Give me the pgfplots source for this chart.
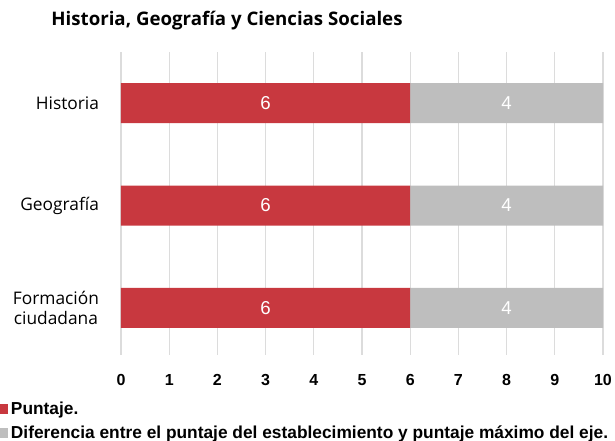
\documentclass[border=0pt]{standalone}
\usepackage{pgfplots}
\pgfplotsset{compat=1.18}
\usepackage{fontspec}
\setmainfont{Open Sans}
\newfontfamily\arialf{Liberation Sans}
\definecolor{barred}{HTML}{C8383F}
\definecolor{bargray}{HTML}{BEBEBE}
\definecolor{gridc}{HTML}{DCDCDC}
\begin{document}
\begin{tikzpicture}
\useasboundingbox (0pt,0pt) rectangle (461.25pt,330.75pt);
\node[font=\bfseries\fontsize{14}{16}\selectfont, anchor=center] at (170.25pt,315pt) {Historia, Geografía y Ciencias Sociales};
\begin{axis}[
  at={(90.75pt,64.5pt)}, anchor=south west,
  scale only axis, width=361.5pt, height=227.25pt,
  xbar stacked, bar width=30pt,
  xmin=0, xmax=10, ymin=-0.46, ymax=2.5,
  xtick={0,1,...,10},
  ytick={0,1,2},
  yticklabels={{Formación\\ciudadana},Geografía,Historia},
  yticklabel style={align=center, font=\fontsize{13}{15.5}\selectfont, xshift=-13pt},
  xticklabel style={font=\arialf\bfseries\fontsize{12}{14}\selectfont, yshift=-11pt},
  /pgf/number format/assume math mode=true,
  major tick length=0pt,
  axis line style={draw=none},
  xmajorgrids, major grid style={gridc, line width=1pt},
  nodes near coords,
  every node near coord/.append style={anchor=center, text=white, font=\arialf\fontsize{14}{16}\selectfont},
  legend style={at={(axis description cs:-0.251,-0.145)}, anchor=north west, draw=none, fill=none, inner sep=0pt, row sep=3pt, font=\arialf\bfseries\fontsize{13}{15}\selectfont, legend cell align=left},
  legend image code/.code={\fill[#1] (0pt,-3.5pt) rectangle (6pt,3.5pt);},
]
\addplot[fill=barred, draw=none] coordinates {(6,0) (6,1) (6,2)};
\addplot[fill=bargray, draw=none] coordinates {(4,0) (4,1) (4,2)};
\legend{Puntaje., Diferencia entre el puntaje del establecimiento y puntaje máximo del eje.}
\end{axis}
\end{tikzpicture}
\end{document}
